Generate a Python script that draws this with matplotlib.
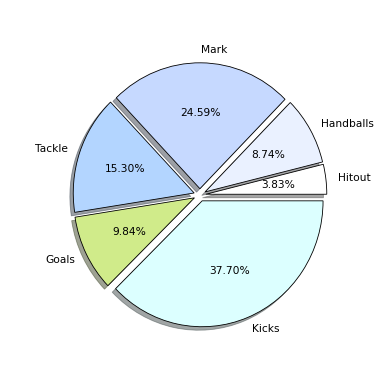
import matplotlib
matplotlib.use("Agg")
import matplotlib.pyplot as plt

labels = ["Hitout", "Handballs", "Mark", "Tackle", "Goals", "Kicks"]
values = [7, 16, 45, 28, 18, 69]
colors = ["#ffffff", "#eaf1ff", "#c6d9ff", "#b3d5ff", "#d0eb8a", "#dcffff"]
explode = [0.05, 0.05, 0.05, 0.05, 0.05, 0.05]

fig = plt.figure(figsize=(3.9, 3.9), dpi=100)
ax = fig.add_axes([0.125, 0.0965, 0.775, 0.807])
ax.pie(values, labels=labels, colors=colors, explode=explode, autopct="%1.2f%%",
       shadow=True, wedgeprops=dict(edgecolor="black", linewidth=0.6),
       textprops=dict(fontsize=7.7))
ax.set_aspect("auto")
ax.set_xlim(-1.25, 1.25)
ax.set_ylim(-1.25, 1.25)
fig.savefig("out.png", dpi=100)
